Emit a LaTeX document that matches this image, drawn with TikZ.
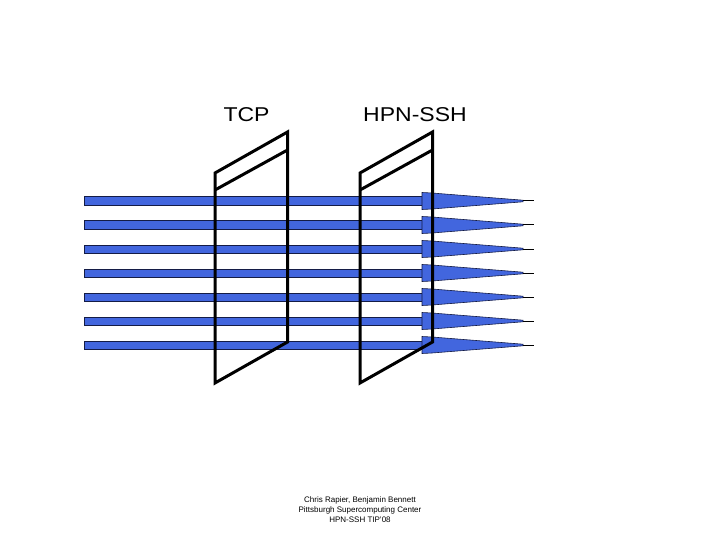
\documentclass[tikz,border=0pt]{standalone}
\usepackage{fontspec}
\setmainfont{Liberation Sans}
\usepackage{color}
\usetikzlibrary{math}
\definecolor{beamblue}{RGB}{66,102,222}
\definecolor{beamedge}{RGB}{20,28,70}

\begin{document}
\begin{tikzpicture}[x=1pt,y=-1pt]
      \tikzmath{\xl = 84; \xf = 422; \xc = 432; \xt = 523; \xe = 534; \w = 72.5;}
      \useasboundingbox (0,0) rectangle (720,540);
      % beams
      \foreach \y in {201,225,...,345} {
        \draw[fill=beamblue, draw=beamedge, line width=0.6pt] (\xl,\y-4.2) rectangle (\xf,\y+4.2);
        \draw[fill=beamblue, draw=beamedge, line width=0.6pt] (\xf,\y-8.5) -- (\xc,\y-8) -- (\xt,\y-0.8) -- (\xt,\y+0.8) -- (\xc,\y+8) -- (\xf,\y+8.5) -- cycle;
        \draw[line width=1pt] (\xt,\y) -- (\xe,\y);
      }
      % frames
      \foreach \x in {215,360} {
        \draw[line width=3pt, line join=miter] (\x,383) -- (\x,173) -- (\x+\w,132) -- (\x+\w,342) -- cycle;
        \draw[line width=3pt] (\x,190) -- (\x+\w,150);
      }
      \node (tcp) at (246.5,115) {\fontsize{20}{24}\selectfont\scalebox{1.15}[1]{TCP}};
      \node (hpn) at (415,115) {\fontsize{20}{24}\selectfont\scalebox{1.15}[1]{HPN-SSH}};
      \node[align=center, font=\fontsize{8}{10}\selectfont] (credit) at (360,509.5) {Chris Rapier, Benjamin Bennett\\Pittsburgh Supercomputing Center\\HPN-SSH TIP'08};
\end{tikzpicture}
\end{document}
